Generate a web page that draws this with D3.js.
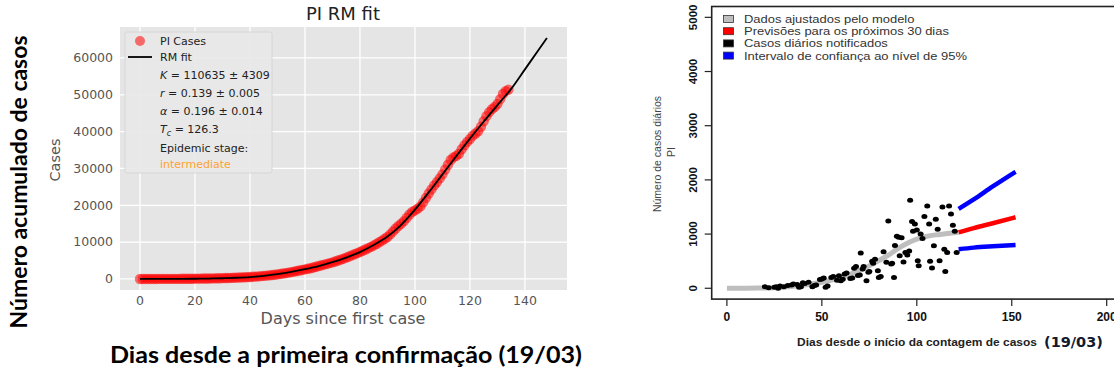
<!DOCTYPE html>
<html>
<head>
<meta charset="utf-8">
<title>PI casos</title>
<script src="https://cdn.jsdelivr.net/npm/d3@7"></script>
<style>
  body{ margin:0; background:#fff; }
  svg{ display:block; }
</style>
</head>
<body>
<div id="container"></div>
<script>
// ---------- left panel data (cumulative cases, day = index) ----------
var cumCases = [0,1,1,2,2,3,5,8,10,12,15,18,20,25,30,35,40,45,55,65,75,85,100,110,120,135,150,165,180,200,220,240,260,290,320,
  350,380,420,460,500,540,580,630,690,760,830,900,980,1060,1150,1250,1360,1470,1590,1720,1860,2000,2150,2300,2450,2600,
  2750,2900,3100,3300,3500,3700,3900,4100,4300,4500,4750,5000,5250,5500,5800,6100,6400,6700,7000,7300,
  7650,8000,8350,8700,9100,9500,9950,10400,10900,11400,12100,12900,13700,14400,15000,15700,16600,17500,18200,18600,
  19100,19700,20800,22000,23200,24300,25400,26300,27300,28400,29700,31000,32300,33000,33400,34000,35200,36300,37200,38000,
  38900,39500,40100,41300,42800,44200,45300,46100,46700,47500,48800,50200,51000,51400];
var fitDays   = [0,5,10,15,20,25,30,35,40,45,50,55,60,65,70,75,80,85,90,95,100,105,110,115,120,125,130,135,140,145,148];
var fitValues = [0,5,15,30,60,110,190,320,520,850,1300,1900,2650,3500,4550,5800,7300,9200,11500,14700,18800,23500,28400,33300,38100,42700,47200,51600,56900,62200,65400];
var leftXTicks = [0,20,40,60,80,100,120,140];
var leftYTicks = [0,10000,20000,30000,40000,50000,60000];

// ---------- right panel data (daily cases) ----------
var dailyDays   = [20,22,25,26,27,28,30,32,34,35,37,38,39,40,41,43,45,46,47,49,50,51,52,53,55,56,58,59,60,61,62,63,65,66,67,68,69,70,70.5,71.5,72,73.5,74.5,75,76.5,77,78,79.5,80,81,82.5,84,85,86.5,87,88,88.5,89.5,90.5,91,92,93,94,95,96,96.5,97.5,98,99,100,100.5,101,102,103,104,105.5,106.5,107,108,109,110,111,112,113.5,114.5,115,116,117,118,119,120,121];
var dailyCounts = [30,10,20,30,0,40,30,50,60,80,70,20,30,100,90,110,30,50,60,160,170,190,20,40,200,215,150,230,140,165,265,280,180,190,370,400,235,245,650,355,400,140,295,310,500,460,535,325,200,215,675,480,1240,450,460,200,790,960,940,600,930,485,660,615,690,1625,1230,1050,1185,1075,510,415,1000,920,1325,1520,1185,500,375,785,1275,1090,510,1500,720,310,660,1520,1370,1165,1050,660];
var modelDays   = [0,10,20,30,40,50,60,70,80,85,90,95,100,105,110,115,122];
var modelValues = [0,2,5,20,55,110,195,330,510,610,730,830,905,955,985,1005,1035];
var forecastDays  = [122,130,140,152];
var forecastMid   = [1030,1110,1200,1310];
var forecastUpper = [1465,1640,1880,2150];
var forecastLower = [720,750,775,800];
var rightXTicks = [0,50,100,150,200];
var rightYTicks = [0,1000,2000,3000,4000,5000];

var svg = d3.select("#container").append("svg")
    .attr("width", 1114).attr("height", 372)
    .style("background", "#fff");

// ================= left: matplotlib ggplot style =================
var L = {left:120, right:567, top:27, bottom:290};
var lx = d3.scaleLinear().domain([-7.27, 155.3]).range([L.left, L.right]);
var ly = d3.scaleLinear().domain([-3000, 68400]).range([L.bottom, L.top]);

var lg = svg.append("g").style("font-family", "'DejaVu Sans', sans-serif");

lg.append("rect")
  .attr("x", L.left).attr("y", L.top)
  .attr("width", L.right - L.left).attr("height", L.bottom - L.top)
  .attr("fill", "#e5e5e5");

lg.selectAll(".vgrid").data(leftXTicks).enter().append("line")
  .attr("x1", d => lx(d)).attr("x2", d => lx(d))
  .attr("y1", L.top).attr("y2", L.bottom)
  .attr("stroke", "#fff").attr("stroke-width", 1.3);
lg.selectAll(".hgrid").data(leftYTicks).enter().append("line")
  .attr("y1", d => ly(d)).attr("y2", d => ly(d))
  .attr("x1", L.left).attr("x2", L.right)
  .attr("stroke", "#fff").attr("stroke-width", 1.3);

lg.selectAll(".xt").data(leftXTicks).enter().append("text")
  .attr("x", d => lx(d)).attr("y", 305)
  .attr("text-anchor", "middle").attr("font-size", 12.5).attr("fill", "#555")
  .text(d => d);
lg.selectAll(".yt").data(leftYTicks).enter().append("text")
  .attr("x", 113).attr("y", d => ly(d)).attr("dy", "0.35em")
  .attr("text-anchor", "end").attr("font-size", 12.5).attr("fill", "#555")
  .text(d => d);

// cases points
lg.append("g").selectAll("circle").data(cumCases).enter().append("circle")
  .attr("cx", (d, i) => lx(i)).attr("cy", d => ly(d))
  .attr("r", 5.2).attr("fill", "#ff0000").attr("fill-opacity", 0.55);

var fitLine = d3.line()
  .x((d, i) => lx(fitDays[i])).y(d => ly(d))
  .curve(d3.curveMonotoneX);
lg.append("path").datum(fitValues)
  .attr("d", fitLine).attr("fill", "none")
  .attr("stroke", "#000").attr("stroke-width", 1.8);

lg.append("text").attr("x", 343).attr("y", 20)
  .attr("text-anchor", "middle").attr("font-size", 18).attr("fill", "#222")
  .text("PI RM fit");
lg.append("text").attr("x", 343).attr("y", 324)
  .attr("text-anchor", "middle").attr("font-size", 16).attr("fill", "#555")
  .text("Days since first case");
lg.append("text").attr("transform", "translate(60,160) rotate(-90)")
  .attr("text-anchor", "middle").attr("font-size", 14.5).attr("fill", "#555")
  .text("Cases");

// legend
var leg = lg.append("g");
leg.append("rect").attr("x", 125).attr("y", 32).attr("width", 147).attr("height", 141)
  .attr("rx", 2).attr("fill", "#e8e8e8").attr("fill-opacity", 0.9)
  .attr("stroke", "#d6d6d6");
leg.append("circle").attr("cx", 140).attr("cy", 41).attr("r", 5)
  .attr("fill", "red").attr("fill-opacity", 0.55);
leg.append("line").attr("x1", 128).attr("x2", 152).attr("y1", 57).attr("y2", 57)
  .attr("stroke", "#000").attr("stroke-width", 1.8);

var legRows = [41, 57, 75, 93, 111, 129, 148, 164];
function legText(i) {
  return leg.append("text").attr("x", 160).attr("y", legRows[i]).attr("dy", "0.35em")
    .attr("font-size", 11).attr("fill", "#222");
}
legText(0).text("PI Cases");
legText(1).text("RM fit");
var t2 = legText(2);
t2.append("tspan").attr("font-style", "italic").text("K");
t2.append("tspan").text(" = 110635 ± 4309");
var t3 = legText(3);
t3.append("tspan").attr("font-style", "italic").text("r");
t3.append("tspan").text(" = 0.139 ± 0.005");
var t4 = legText(4);
t4.append("tspan").attr("font-style", "italic").text("α");
t4.append("tspan").text(" = 0.196 ± 0.014");
var t5 = legText(5);
t5.append("tspan").attr("font-style", "italic").text("T");
t5.append("tspan").attr("font-style", "italic").attr("font-size", 8).attr("dy", 3).text("c");
t5.append("tspan").attr("dy", -3).text(" = 126.3");
legText(6).text("Epidemic stage:");
legText(7).attr("fill", "#ffa22e").text("intermediate");

// slide labels
svg.append("text").attr("transform", "translate(27,182) rotate(-90)")
  .attr("text-anchor", "middle")
  .style("font-family", "Lato, 'Open Sans', sans-serif").style("font-weight", "700")
  .attr("font-size", 23).attr("fill", "#000")
  .attr("textLength", 293).attr("lengthAdjust", "spacingAndGlyphs")
  .text("Número acumulado de casos");
svg.append("text").attr("x", 346).attr("y", 363)
  .attr("text-anchor", "middle")
  .style("font-family", "Lato, 'Open Sans', sans-serif").style("font-weight", "700")
  .attr("font-size", 23).attr("fill", "#000")
  .attr("textLength", 472).attr("lengthAdjust", "spacingAndGlyphs")
  .text("Dias desde a primeira confirmação (19/03)");

// ================= right: base R style =================
var rx = d3.scaleLinear().domain([-8, 208]).range([711.7, 1121.9]);
var ry = d3.scaleLinear().domain([-200, 5200]).range([299.1, 6.5]);
var rg = svg.append("g").style("font-family", "'Liberation Sans', Arial, sans-serif");

rg.append("rect").attr("x", rx(-8)).attr("y", ry(5200))
  .attr("width", rx(208) - rx(-8)).attr("height", ry(-200) - ry(5200))
  .attr("fill", "none").attr("stroke", "#222").attr("stroke-width", 1.6);

rg.selectAll(".rxt").data(rightXTicks).enter().append("line")
  .attr("x1", d => rx(d)).attr("x2", d => rx(d))
  .attr("y1", ry(-200)).attr("y2", ry(-200) + 7)
  .attr("stroke", "#222").attr("stroke-width", 1.2);
rg.selectAll(".rxl").data(rightXTicks).enter().append("text")
  .attr("x", d => rx(d)).attr("y", 321)
  .attr("text-anchor", "middle").attr("font-size", 12).attr("font-weight", "bold")
  .attr("fill", "#111").text(d => d);

rg.selectAll(".ryt").data(rightYTicks).enter().append("line")
  .attr("x1", rx(-8) - 7).attr("x2", rx(-8))
  .attr("y1", d => ry(d)).attr("y2", d => ry(d))
  .attr("stroke", "#222").attr("stroke-width", 1.2);
rg.selectAll(".ryl").data(rightYTicks).enter().append("text")
  .attr("transform", d => "translate(697," + ry(d) + ") rotate(-90)")
  .attr("text-anchor", "middle").attr("font-size", 11.5).attr("font-weight", "bold")
  .attr("fill", "#111").text(d => d);

var rLine = function(days) {
  return d3.line().x((d, i) => rx(days[i])).y(d => ry(d)).curve(d3.curveMonotoneX);
};
rg.append("path").datum(modelValues).attr("d", rLine(modelDays))
  .attr("fill", "none").attr("stroke", "#bebebe").attr("stroke-width", 5);

rg.append("g").selectAll("ellipse").data(dailyCounts).enter().append("ellipse")
  .attr("cx", (d, i) => rx(dailyDays[i])).attr("cy", d => ry(d))
  .attr("rx", 3).attr("ry", 2.5).attr("fill", "#000");

rg.append("path").datum(forecastMid).attr("d", rLine(forecastDays))
  .attr("fill", "none").attr("stroke", "#ff0000").attr("stroke-width", 4.5);
rg.append("path").datum(forecastUpper).attr("d", rLine(forecastDays))
  .attr("fill", "none").attr("stroke", "#0000ff").attr("stroke-width", 4.5);
rg.append("path").datum(forecastLower).attr("d", rLine(forecastDays))
  .attr("fill", "none").attr("stroke", "#0000ff").attr("stroke-width", 4.5);

// legend (the slide stretched this panel sideways, hence scale(1.2,1))
var rlegLabels = ["Dados ajustados pelo modelo", "Previsões para os próximos 30 dias",
                  "Casos diários notificados", "Intervalo de confiança ao nível de 95%"];
var rlegColors = ["#bebebe", "#ff0000", "#000000", "#0000ff"];
var rleg = rg.append("g");
rleg.selectAll("rect").data(rlegLabels).enter().append("rect")
  .attr("x", 723.5).attr("y", (d, i) => 15.5 + i * 12.2)
  .attr("width", 10).attr("height", 7)
  .attr("fill", (d, i) => rlegColors[i]).attr("stroke", "#333").attr("stroke-width", 0.8);
rleg.selectAll("text").data(rlegLabels).enter().append("text")
  .attr("transform", (d, i) => "translate(744," + (19.3 + i * 12.2) + ") scale(1.2,1)")
  .attr("dy", "0.35em")
  .attr("font-size", 10.8).attr("fill", "#333").text(d => d);

// axis titles
rg.append("text").attr("transform", "translate(661,154) rotate(-90)")
  .attr("text-anchor", "middle").attr("font-size", 10.5).attr("fill", "#444")
  .text("Número de casos diários");
rg.append("text").attr("transform", "translate(675,152) rotate(-90)")
  .attr("text-anchor", "middle").attr("font-size", 10.5).attr("fill", "#444")
  .text("PI");
rg.append("text").attr("transform", "translate(917,342) scale(1.14,1)").attr("dy", "0.35em")
  .attr("text-anchor", "middle").attr("font-size", 10.5).attr("font-weight", "bold")
  .attr("fill", "#222").text("Dias desde o início da contagem de casos");
rg.append("text").attr("x", 1044).attr("y", 342).attr("dy", "0.35em")
  .style("font-family", "'DejaVu Sans', sans-serif")
  .attr("font-size", 14.5).attr("font-weight", "bold")
  .attr("fill", "#121a30").text("(19/03)");
</script>
</body>
</html>
